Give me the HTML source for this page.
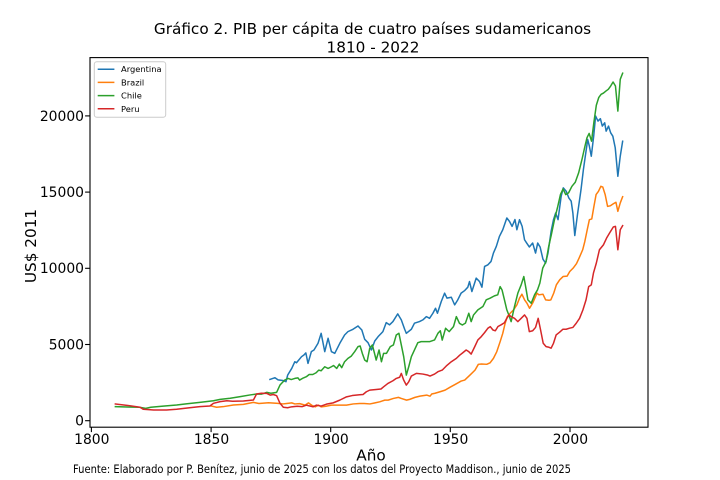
<!DOCTYPE html>
<html>
<head>
<meta charset="utf-8">
<style>
  html, body { margin: 0; padding: 0; background: #fff; }
  svg { display: block; }
  text { font-family: "DejaVu Sans", "Liberation Sans", sans-serif; fill: #000; }
</style>
</head>
<body>
<svg width="720" height="480" viewBox="0 0 720 480" xmlns="http://www.w3.org/2000/svg">
  <rect x="0" y="0" width="720" height="480" fill="#fff"/>
  <defs>
    <clipPath id="ax">
      <rect x="90" y="57.6" width="558" height="369.6"/>
    </clipPath>
  </defs>

  <!-- Title -->
  <text x="372.5" y="34.2" font-size="15.28" text-anchor="middle">Gráfico 2. PIB per cápita de cuatro países sudamericanos</text>
  <text x="373" y="52.5" font-size="15.28" text-anchor="middle">1810 - 2022</text>

  <!-- Series -->
  <g clip-path="url(#ax)">
    <g transform="matrix(2.3928 0 0 -0.01524 -4215.60 420.7)" fill="none" stroke-width="1.5" stroke-linejoin="round" stroke-linecap="square">
      <polyline vector-effect="non-scaling-stroke" stroke="#1f77b4" points="1874.6,2710 1876.7,2820 1878,2680 1880,2640 1881.3,2560 1882,2990 1883.7,3430 1885,3870 1885.7,3800 1887.8,4200 1888.8,4310 1889.6,4450 1890.5,3760 1891.9,4530 1893,4640 1894.7,5080 1896,5735 1897.5,4530 1898.9,5410 1900.3,4530 1901.7,4420 1903.8,5080 1905.8,5625 1907.2,5845 1909.3,6000 1911.4,6217 1913,5950 1914.2,5340 1915.6,5120 1917,4640 1918.4,5230 1919.8,5515 1921.8,5845 1923.2,6435 1924.6,6290 1926,6505 1928,7007 1929.5,6615 1930.9,6000 1931.6,5735 1933.7,6000 1935,6400 1937.1,6505 1938.5,6615 1940,6830 1941.3,6720 1942.7,7050 1943.8,7380 1944.6,7050 1946.2,7820 1947.6,8370 1948.6,8040 1950.4,8100 1951.8,7600 1953.1,7930 1954.5,8370 1956,8540 1957.3,8760 1958,9130 1959,8475 1960.8,9355 1962.2,9130 1963.2,8760 1964.3,10120 1965.7,10230 1967,10450 1968,11000 1969.2,11435 1970.5,12090 1971.9,12530 1973.6,13300 1974.7,13080 1975.8,12750 1977,13200 1977.8,12530 1978.9,13190 1980,12750 1981,11875 1981.9,11657 1983,11400 1984.4,11657 1985.6,11000 1986.5,11657 1987.5,11400 1988.7,10600 1989.8,10340 1990.8,11000 1992.1,12420 1993.1,13190 1994,13630 1995,13190 1996.3,14720 1997.2,15280 1998.4,15060 1999.5,14620 2000.5,14400 2001.2,13630 2002,12150 2003.1,13500 2004.6,15160 2005.6,16480 2006.2,17140 2007.4,18450 2008.1,18010 2008.9,17355 2009.9,18670 2010.7,19990 2011.7,19660 2012.7,19815 2013.5,19330 2014.5,19550 2015.1,19000 2016.1,19330 2017,18890 2017.9,18670 2018.9,17910 2020,16040 2021,17355 2022,18340"/>
      <polyline vector-effect="non-scaling-stroke" stroke="#ff7f0e" points="1850,965 1852.3,880 1855,920 1859.3,1030 1863.5,1070 1867.7,1200 1870,1130 1874,1180 1878,1140 1880,1100 1881.6,1130 1883.7,1170 1885,1100 1887,1120 1889.3,1020 1890.7,1170 1892,1020 1893.5,910 1894.9,1020 1896,910 1898,950 1900.3,1020 1903,1020 1906.6,1020 1909.4,1100 1912.1,1130 1914,1130 1916.4,1100 1918.5,1170 1920.5,1240 1922.6,1350 1924,1350 1926.2,1460 1928.3,1530 1929.5,1460 1931.7,1350 1933,1400 1935.2,1530 1937.3,1610 1940.1,1680 1941.5,1610 1942.2,1750 1943.6,1800 1945.7,1900 1947.8,2007 1949.9,2200 1952,2380 1954.5,2600 1956,2665 1958.2,2993 1960.3,3320 1961.7,3700 1963,3720 1965.2,3700 1966.6,3800 1968,4090 1969.4,4530 1970.8,5185 1971.9,5735 1972.9,6395 1973.8,6830 1975,7050 1976.4,7270 1977.8,7600 1978.9,8040 1979.9,8300 1981,7930 1982,7710 1983.1,7380 1984.5,7750 1986.2,8370 1987,8260 1988.7,8300 1989.8,7930 1991.2,7900 1992,7930 1993.2,8370 1994.3,8915 1995.7,9245 1997.1,9460 1998.8,9490 1999.9,9790 2001.3,10010 2002.7,10300 2003.8,10670 2005.3,11217 2006.2,11765 2007.2,12530 2008.1,13190 2009.1,13240 2010,14065 2010.9,14835 2011.9,15050 2012.9,15380 2013.7,15330 2014.7,14835 2015.7,14065 2016.8,14100 2018.2,14245 2019.2,14330 2020,13740 2021,14290 2022,14700"/>
      <polyline vector-effect="non-scaling-stroke" stroke="#2ca02c" points="1810,920 1815,900 1820,880 1822.7,810 1824.8,880 1830,960 1835.6,1030 1840,1110 1845.3,1205 1851,1310 1853.8,1400 1858,1470 1862.2,1580 1866.3,1690 1869,1750 1871,1740 1873.3,1860 1875,1800 1877.4,1860 1878.8,2340 1880.8,2670 1882.2,2775 1883.5,2700 1885,2775 1886.3,2810 1887,2665 1888.5,2800 1889.8,2885 1891,3030 1892.5,3030 1893.9,3145 1895,3320 1896,3280 1897.5,3540 1898.9,3430 1900.3,3540 1901.2,3620 1902.5,3430 1903.6,3715 1904.6,3480 1905.8,3870 1907.2,4090 1908.6,4240 1910,4530 1911.4,4860 1912.3,4900 1913.2,4420 1914.2,3980 1915.2,3870 1916.3,4750 1917.4,4970 1918.3,4420 1919,3980 1920.2,4640 1921.2,3870 1922.1,4420 1923.3,4420 1924.9,4860 1926.2,4970 1927.4,5625 1928.5,5735 1929.5,4970 1930.5,4200 1931.6,2993 1932.6,3540 1933.7,4200 1935,4640 1936.4,5120 1937.8,5190 1940,5190 1941.3,5185 1943.4,5300 1944.8,5735 1945.8,5900 1946.6,5290 1948,6065 1949.5,5845 1951.3,6170 1952.5,6830 1953.8,6390 1955,6280 1956.3,6400 1957.7,7050 1958.7,6500 1959.7,6940 1961.5,7270 1963.6,7490 1965,7930 1966.6,8040 1968.4,8190 1969.8,8260 1970.8,8800 1971.6,8580 1972.6,7930 1973.6,7270 1974.7,6830 1975.4,6500 1976.8,7490 1978.2,8370 1979.6,8915 1980.7,9460 1981.7,8580 1982.4,7930 1983.8,7710 1985.2,8260 1986.4,8580 1987.4,9030 1988.6,10010 1990,10450 1991.1,11435 1992.2,12200 1993.5,13190 1994.9,14065 1996,14835 1997.1,15210 1998.2,14835 1999.4,14950 2000.8,15380 2002.2,15645 2003.6,16260 2005,17140 2006.1,17910 2007.1,18570 2008,18850 2009,18340 2010,19600 2011,20700 2012,21200 2013,21415 2014,21500 2015,21630 2016,21745 2017,21960 2018,22225 2019,21960 2020,20315 2021,22400 2022,22800"/>
      <polyline vector-effect="non-scaling-stroke" stroke="#d62728" points="1810,1096 1816,985 1820.3,880 1821.7,748 1826,700 1831.4,700 1835.6,748 1841,853 1845.3,920 1849.5,965 1851,1140 1853.8,1250 1856.6,1310 1859,1280 1863.5,1290 1867.7,1360 1869,1750 1871,1800 1873.3,1790 1874.7,1680 1876,1720 1877.4,1640 1878.8,1140 1880.2,880 1882,850 1883.6,910 1886,950 1888,920 1889.8,1020 1892.6,910 1894,1020 1896,960 1898.2,1085 1901,1170 1903.8,1350 1906.6,1565 1909,1650 1912.1,1700 1913.5,1720 1914.9,1900 1916.3,2007 1919,2050 1921,2080 1922.1,2225 1923.9,2445 1926,2620 1927.4,2775 1928.8,2850 1929.5,3105 1930.5,2665 1931.6,2335 1932.6,2550 1933.7,2930 1935.8,3105 1938.5,3060 1940.6,2990 1941.5,2930 1943.4,3060 1944.8,3215 1946.6,3320 1948.3,3590 1950.4,3870 1952.5,4090 1953.9,4300 1955.2,4460 1956.6,4640 1957.7,4530 1958.7,4370 1960.2,4860 1961.5,5300 1962.9,5515 1964.3,5780 1965.7,6070 1966.7,6170 1967.8,5950 1968.8,5900 1969.9,6180 1971.3,6300 1972.6,6430 1973.6,6720 1974.5,6940 1975.4,6830 1976.8,6720 1978.2,6500 1979.6,6720 1981,6940 1982,6720 1983,5845 1984.4,5900 1985.6,6120 1986.7,6720 1987.7,5960 1988.8,5080 1990,4860 1991,4830 1992.1,4760 1993.1,5080 1994.2,5625 1995.6,5800 1997,6000 1998.4,6000 1999.8,6070 2001.2,6120 2002.6,6395 2004,6720 2005.4,7270 2006.7,7930 2007.8,8800 2008.9,8915 2009.8,9685 2011,10340 2012.3,11217 2014,11546 2015.3,11985 2016.7,12355 2018.1,12710 2019,12750 2020,11217 2021,12530 2022,12800"/>
    </g>
  </g>

  <!-- Axes frame -->
  <rect x="90" y="57.6" width="558" height="369.6" fill="none" stroke="#000" stroke-width="1.1"/>

  <!-- Y ticks -->
  <g stroke="#000" stroke-width="1.1">
    <line x1="85.1" y1="420.7" x2="90" y2="420.7"/>
    <line x1="85.1" y1="344.5" x2="90" y2="344.5"/>
    <line x1="85.1" y1="268.3" x2="90" y2="268.3"/>
    <line x1="85.1" y1="192.1" x2="90" y2="192.1"/>
    <line x1="85.1" y1="115.9" x2="90" y2="115.9"/>
  </g>
  <g font-size="13.89" text-anchor="end">
    <text x="84" y="425.6">0</text>
    <text x="84" y="349.4">5000</text>
    <text x="84" y="273.2">10000</text>
    <text x="84" y="197.0">15000</text>
    <text x="84" y="120.8">20000</text>
  </g>

  <!-- X ticks -->
  <g stroke="#000" stroke-width="1.1">
    <line x1="91.4" y1="427.2" x2="91.4" y2="432.1"/>
    <line x1="211.1" y1="427.2" x2="211.1" y2="432.1"/>
    <line x1="330.7" y1="427.2" x2="330.7" y2="432.1"/>
    <line x1="450.3" y1="427.2" x2="450.3" y2="432.1"/>
    <line x1="570.0" y1="427.2" x2="570.0" y2="432.1"/>
  </g>
  <g font-size="13.89" text-anchor="middle">
    <text x="91.8" y="444.2">1800</text>
    <text x="211.5" y="444.2">1850</text>
    <text x="331.1" y="444.2">1900</text>
    <text x="450.7" y="444.2">1950</text>
    <text x="570.4" y="444.2">2000</text>
  </g>

  <!-- Axis labels -->
  <text x="371" y="460.5" font-size="15.28" text-anchor="middle">Año</text>
  <text transform="translate(36,246) rotate(-90)" x="0" y="0" font-size="15.28" text-anchor="middle">US$ 2011</text>

  <!-- Legend -->
  <rect x="94.3" y="61.7" width="71.4" height="55.6" rx="2.5" ry="2.5" fill="#fff" fill-opacity="0.8" stroke="#cccccc" stroke-width="1"/>
  <g stroke-width="1.5">
    <line x1="97.7" y1="69.2" x2="114.4" y2="69.2" stroke="#1f77b4"/>
    <line x1="97.7" y1="82.4" x2="114.4" y2="82.4" stroke="#ff7f0e"/>
    <line x1="97.7" y1="95.6" x2="114.4" y2="95.6" stroke="#2ca02c"/>
    <line x1="97.7" y1="108.8" x2="114.4" y2="108.8" stroke="#d62728"/>
  </g>
  <g font-size="8.33">
    <text x="121" y="72.2">Argentina</text>
    <text x="121" y="85.4">Brazil</text>
    <text x="121" y="98.6">Chile</text>
    <text x="121" y="111.8">Peru</text>
  </g>

  <!-- Footer -->
  <text x="73" y="473" font-size="11.6" textLength="498" lengthAdjust="spacingAndGlyphs">Fuente: Elaborado por P. Benítez, junio de 2025 con los datos del Proyecto Maddison., junio de 2025</text>
</svg>
</body>
</html>
